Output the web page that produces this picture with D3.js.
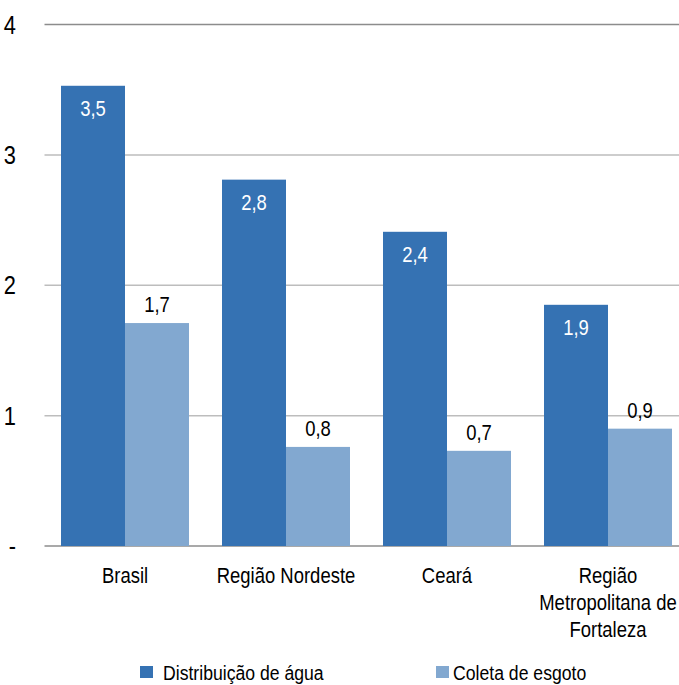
<!DOCTYPE html>
<html><head><meta charset="utf-8">
<script src="https://cdn.jsdelivr.net/npm/d3@7/dist/d3.min.js"></script>
<style>body{margin:0;background:#fff}svg{display:block}text{font-family:"Liberation Sans",Arial,sans-serif;fill:#000}</style>
</head><body><svg id="c" width="679" height="685"></svg>
<script>
const categories = [["Brasil"], ["Região Nordeste"], ["Ceará"], ["Região", "Metropolitana de", "Fortaleza"]];
const seriesNames = ["Distribuição de água", "Coleta de esgoto"];
const agua = [3.53, 2.81, 2.41, 1.85];
const esgoto = [1.71, 0.76, 0.73, 0.90];
const aguaLabels = ["3,5", "2,8", "2,4", "1,9"];
const esgotoLabels = ["1,7", "0,8", "0,7", "0,9"];
const yTicks = [0, 1, 2, 3, 4];
const yTickLabels = ["-", "1", "2", "3", "4"];
const colors = ["#3572b3", "#82a8d0"];

const svg = d3.select("#c");
const SX = 0.84;
const x = d3.scaleBand().domain(d3.range(categories.length)).range([44.5, 688.5]).paddingInner(0.205).paddingOuter(0.1025);
const xs = d3.scaleBand().domain([0, 1]).range([0, x.bandwidth()]);
const y = d3.scaleLinear().domain([0, 4]).range([546, 24.5]);

function txt(g, tx, ty, s, size, anchor, fill) {
  return g.append("text").attr("transform", `translate(${tx},${ty}) scale(${SX},1)`)
    .attr("text-anchor", anchor).style("font-size", size + "px").style("fill", fill || "#000").text(s);
}

// grid
const gridG = svg.append("g");
yTicks.forEach(t => {
  gridG.append("line").attr("x1", 44.5).attr("x2", 688.5).attr("y1", y(t)).attr("y2", y(t))
    .attr("stroke", (t === 0 || t === 4) ? "#8c8c8c" : "#bdbdbd").attr("stroke-width", 1.5);
});
// y labels
yTicks.forEach((t, i) => txt(svg, 16, y(t) + 9, yTickLabels[i], 26, "end"));

const series = [agua, esgoto];
series.forEach((vals, s) => {
  svg.append("g").selectAll("rect").data(vals).join("rect")
    .attr("x", (d, i) => x(i) + xs(s)).attr("width", xs.bandwidth())
    .attr("y", d => y(d)).attr("height", d => y(0) - y(d))
    .attr("fill", colors[s]);
});
// value labels
agua.forEach((v, i) => txt(svg, x(i) + xs(0) + xs.bandwidth() / 2, y(v) + 30, aguaLabels[i], 22, "middle", "#fff"));
esgoto.forEach((v, i) => txt(svg, x(i) + xs(1) + xs.bandwidth() / 2, y(v) - 11, esgotoLabels[i], 22, "middle", "#000"));

// category labels
categories.forEach((lines, i) => {
  lines.forEach((l, j) => txt(svg, x(i) + x.bandwidth() / 2, 583 + j * 27, l, 22, "middle"));
});

// legend
const legX = [140, 436];
seriesNames.forEach((n, s) => {
  svg.append("rect").attr("x", legX[s]).attr("y", 666).attr("width", 13).attr("height", 12).attr("fill", colors[s]);
  txt(svg, legX[s] + 23 - (s ? 6 : 0), 679.5, n, 21, "start");
});
</script></body></html>
